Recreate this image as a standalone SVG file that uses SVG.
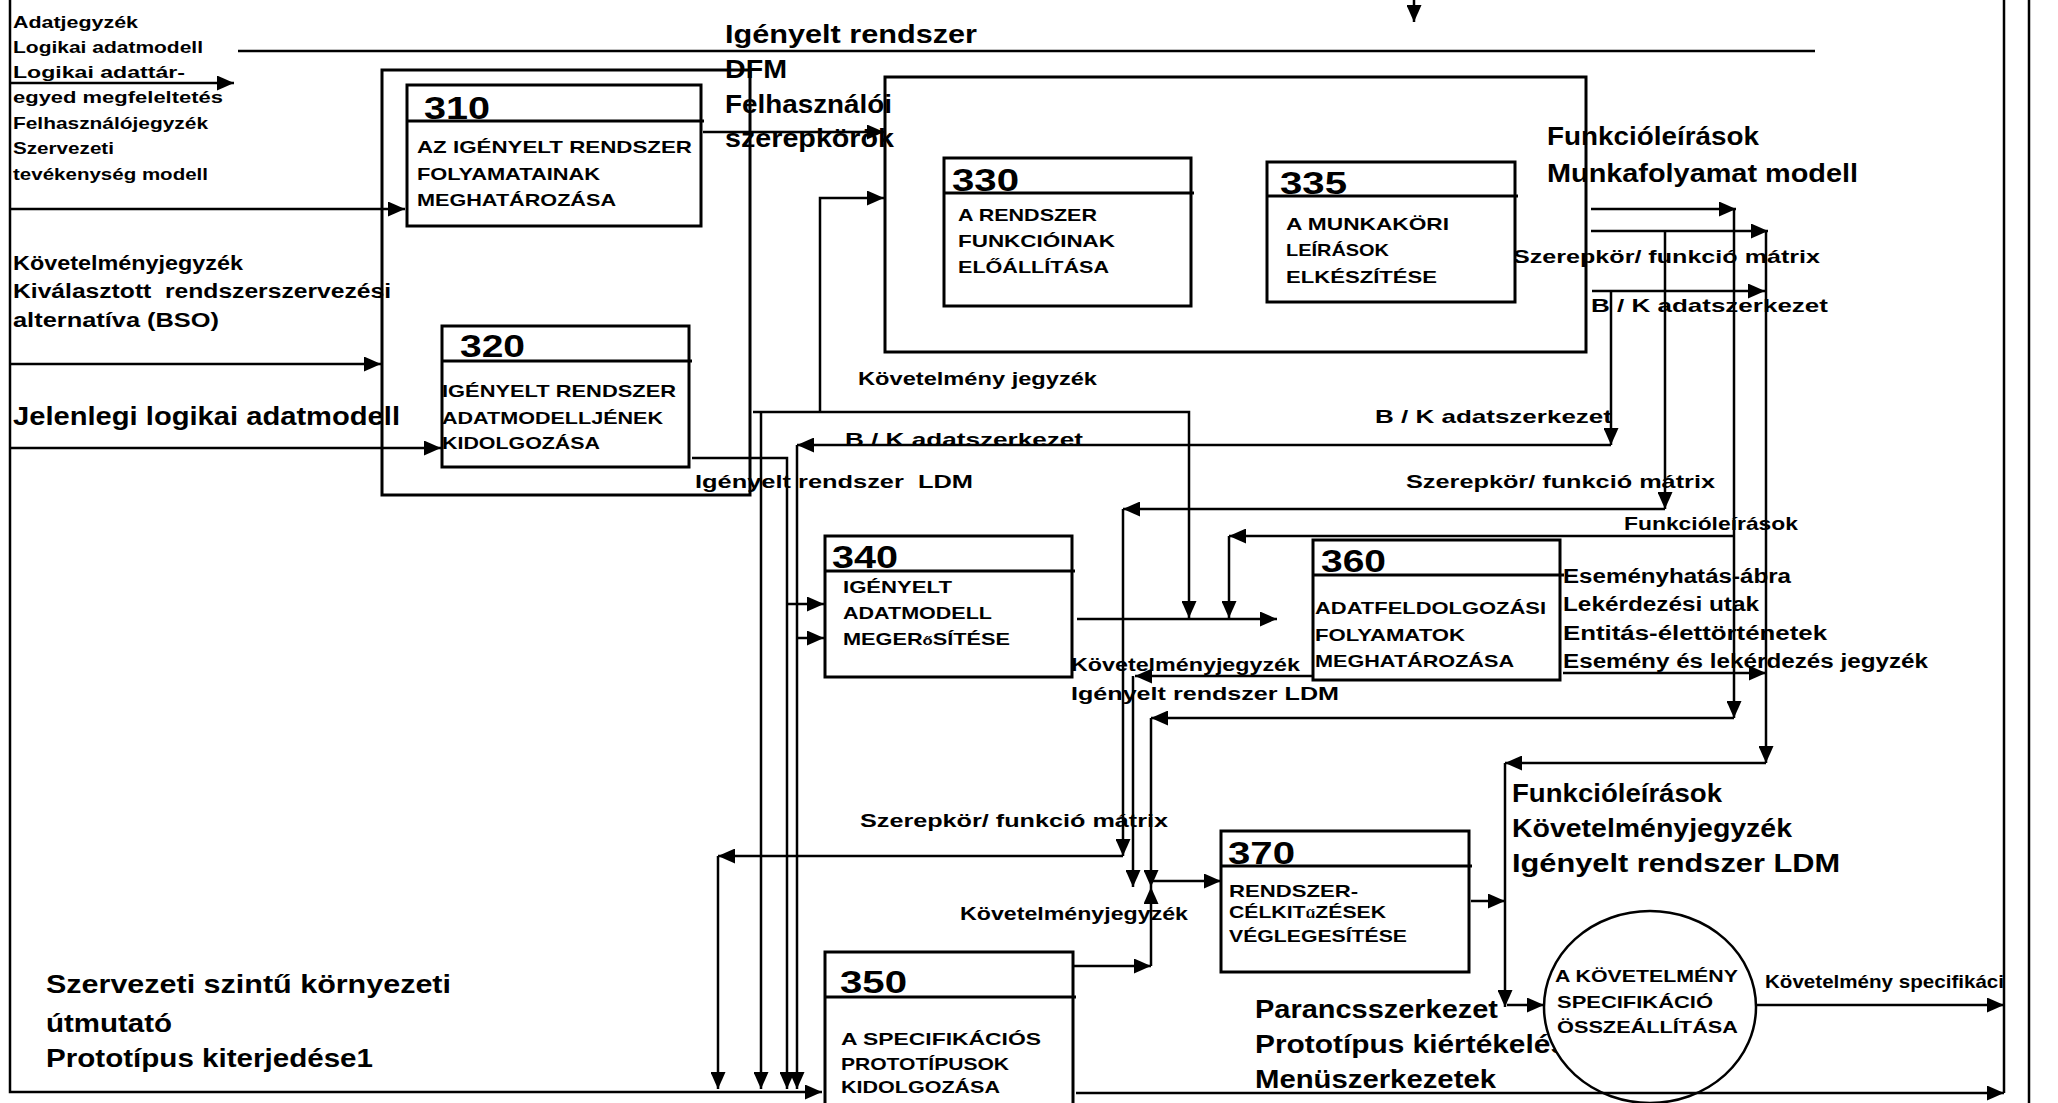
<svg xmlns="http://www.w3.org/2000/svg" width="2058" height="1103" viewBox="0 0 2058 1103">
  <defs>
    <marker id="ah" viewBox="0 0 17 15" refX="17" refY="7.5" markerWidth="17" markerHeight="15" markerUnits="userSpaceOnUse" orient="auto">
      <path d="M0,0 L17,7.5 L0,15 z" fill="#000"/>
    </marker>
    <style>
      .ln { fill: none; stroke: #000; stroke-width: 2.5; }
      .a { marker-end: url(#ah); }
      .bx { fill: #fff; stroke: #000; stroke-width: 3; }
      .fr { fill: none; stroke: #000; stroke-width: 3; }
      .dv { stroke: #000; stroke-width: 3; }
      text { font-family: "Liberation Sans", Arial, sans-serif; font-weight: bold; fill: #000; }
      .num { font-size: 32px; }
      .bt { font-size: 17px; }
      .s17 { font-size: 17px; }
      .s19 { font-size: 19px; }
      .s20 { font-size: 20px; }
      .s25 { font-size: 25px; }
    </style>
  </defs>

  <rect width="2058" height="1103" fill="#fff"/>

  <!-- flow labels -->
  <g id="labels">
    <text class="s17" x="13" y="28" textLength="125" lengthAdjust="spacingAndGlyphs">Adatjegyzék</text>
    <text class="s17" x="13" y="53" textLength="190" lengthAdjust="spacingAndGlyphs">Logikai adatmodell</text>
    <text class="s17" x="13" y="78" textLength="172" lengthAdjust="spacingAndGlyphs">Logikai adattár-</text>
    <text class="s17" x="13" y="103" textLength="210" lengthAdjust="spacingAndGlyphs">egyed megfeleltetés</text>
    <text class="s17" x="13" y="129" textLength="195" lengthAdjust="spacingAndGlyphs">Felhasználójegyzék</text>
    <text class="s17" x="13" y="154" textLength="101" lengthAdjust="spacingAndGlyphs">Szervezeti</text>
    <text class="s17" x="13" y="180" textLength="195" lengthAdjust="spacingAndGlyphs">tevékenység modell</text>

    <text class="s20" x="13" y="270" textLength="230" lengthAdjust="spacingAndGlyphs">Követelményjegyzék</text>
    <text class="s20" x="13" y="298" textLength="378" lengthAdjust="spacingAndGlyphs" xml:space="preserve">Kiválasztott  rendszerszervezési</text>
    <text class="s20" x="13" y="327" textLength="206" lengthAdjust="spacingAndGlyphs">alternatíva (BSO)</text>
    <text class="s25" x="13" y="425" textLength="387" lengthAdjust="spacingAndGlyphs">Jelenlegi logikai adatmodell</text>

    <text class="s25" x="725" y="43" textLength="252" lengthAdjust="spacingAndGlyphs">Igényelt rendszer</text>
    <text class="s25" x="725" y="78" textLength="62" lengthAdjust="spacingAndGlyphs">DFM</text>
    <text class="s25" x="725" y="113" textLength="167" lengthAdjust="spacingAndGlyphs">Felhasználói</text>
    <text class="s25" x="725" y="147" textLength="169" lengthAdjust="spacingAndGlyphs">szerepkörök</text>

    <text class="s25" x="1547" y="145" textLength="212" lengthAdjust="spacingAndGlyphs">Funkcióleírások</text>
    <text class="s25" x="1547" y="182" textLength="311" lengthAdjust="spacingAndGlyphs">Munkafolyamat modell</text>
    <text class="s19" x="1513" y="263" textLength="307" lengthAdjust="spacingAndGlyphs">Szerepkör/ funkció mátrix</text>
    <text class="s19" x="1591" y="312" textLength="237" lengthAdjust="spacingAndGlyphs">B / K adatszerkezet</text>

    <text class="s19" x="858" y="385" textLength="239" lengthAdjust="spacingAndGlyphs">Követelmény jegyzék</text>
    <text class="s19" x="845" y="446" textLength="238" lengthAdjust="spacingAndGlyphs">B / K adatszerkezet</text>
    <text class="s19" x="695" y="488" textLength="278" lengthAdjust="spacingAndGlyphs" xml:space="preserve">Igényelt rendszer  LDM</text>
    <text class="s19" x="1375" y="423" textLength="237" lengthAdjust="spacingAndGlyphs">B / K adatszerkezet</text>
    <text class="s19" x="1406" y="488" textLength="309" lengthAdjust="spacingAndGlyphs">Szerepkör/ funkció mátrix</text>
    <text class="s19" x="1624" y="530" textLength="174" lengthAdjust="spacingAndGlyphs">Funkcióleírások</text>

    <text class="s20" x="1563" y="583" textLength="228" lengthAdjust="spacingAndGlyphs">Eseményhatás-ábra</text>
    <text class="s20" x="1563" y="611" textLength="196" lengthAdjust="spacingAndGlyphs">Lekérdezési utak</text>
    <text class="s20" x="1563" y="640" textLength="264" lengthAdjust="spacingAndGlyphs">Entitás-élettörténetek</text>
    <text class="s20" x="1563" y="668" textLength="365" lengthAdjust="spacingAndGlyphs">Esemény és lekérdezés jegyzék</text>

    <text class="s19" x="1071" y="671" textLength="229" lengthAdjust="spacingAndGlyphs">Követelményjegyzék</text>
    <text class="s19" x="1071" y="700" textLength="268" lengthAdjust="spacingAndGlyphs">Igényelt rendszer LDM</text>
    <text class="s19" x="860" y="827" textLength="308" lengthAdjust="spacingAndGlyphs">Szerepkör/ funkció mátrix</text>
    <text class="s19" x="960" y="920" textLength="228" lengthAdjust="spacingAndGlyphs">Követelményjegyzék</text>

    <text class="s25" x="1512" y="802" textLength="210" lengthAdjust="spacingAndGlyphs">Funkcióleírások</text>
    <text class="s25" x="1512" y="837" textLength="280" lengthAdjust="spacingAndGlyphs">Követelményjegyzék</text>
    <text class="s25" x="1512" y="872" textLength="328" lengthAdjust="spacingAndGlyphs">Igényelt rendszer LDM</text>

    <text class="s25" x="1255" y="1018" textLength="243" lengthAdjust="spacingAndGlyphs">Parancsszerkezet</text>
    <text class="s25" x="1255" y="1053" textLength="312" lengthAdjust="spacingAndGlyphs">Prototípus kiértékelés</text>
    <text class="s25" x="1255" y="1088" textLength="241" lengthAdjust="spacingAndGlyphs">Menüszerkezetek</text>
    <text class="s19" x="1765" y="988" textLength="239" lengthAdjust="spacingAndGlyphs">Követelmény specifikáci</text>

    <text class="s25" x="46" y="993" textLength="405" lengthAdjust="spacingAndGlyphs">Szervezeti szintű környezeti</text>
    <text class="s25" x="46" y="1032" textLength="126" lengthAdjust="spacingAndGlyphs">útmutató</text>
    <text class="s25" x="46" y="1067" textLength="327" lengthAdjust="spacingAndGlyphs">Prototípus kiterjedése1</text>
  </g>

  <!-- enclosing frames of the decomposed steps -->
  <g id="frames">
    <rect class="fr" x="382" y="70" width="368" height="425"/>
    <rect class="fr" x="885" y="77" width="701" height="275"/>
  </g>

  <g id="n310">
    <rect class="bx" x="407" y="85" width="294" height="141"/>
    <line class="dv" x1="407" y1="121" x2="704" y2="121"/>
    <text class="num" x="424" y="119" textLength="66" lengthAdjust="spacingAndGlyphs">310</text>
    <text class="bt" x="417" y="153" textLength="275" lengthAdjust="spacingAndGlyphs">AZ IGÉNYELT RENDSZER</text>
    <text class="bt" x="417" y="180" textLength="183" lengthAdjust="spacingAndGlyphs">FOLYAMATAINAK</text>
    <text class="bt" x="417" y="206" textLength="199" lengthAdjust="spacingAndGlyphs">MEGHATÁROZÁSA</text>
  </g>

  <g id="n320">
    <rect class="bx" x="442" y="326" width="247" height="141"/>
    <line class="dv" x1="442" y1="361" x2="692" y2="361"/>
    <text class="num" x="460" y="357" textLength="65" lengthAdjust="spacingAndGlyphs">320</text>
    <text class="bt" x="442" y="397" textLength="234" lengthAdjust="spacingAndGlyphs">IGÉNYELT RENDSZER</text>
    <text class="bt" x="442" y="424" textLength="221" lengthAdjust="spacingAndGlyphs">ADATMODELLJÉNEK</text>
    <text class="bt" x="442" y="449" textLength="158" lengthAdjust="spacingAndGlyphs">KIDOLGOZÁSA</text>
  </g>

  <g id="n330">
    <rect class="bx" x="944" y="158" width="247" height="148"/>
    <line class="dv" x1="944" y1="193" x2="1194" y2="193"/>
    <text class="num" x="952" y="191" textLength="67" lengthAdjust="spacingAndGlyphs">330</text>
    <text class="bt" x="958" y="221" textLength="139" lengthAdjust="spacingAndGlyphs">A RENDSZER</text>
    <text class="bt" x="958" y="247" textLength="157" lengthAdjust="spacingAndGlyphs">FUNKCIÓINAK</text>
    <text class="bt" x="958" y="273" textLength="151" lengthAdjust="spacingAndGlyphs">ELŐÁLLÍTÁSA</text>
  </g>

  <g id="n335">
    <rect class="bx" x="1267" y="162" width="248" height="140"/>
    <line class="dv" x1="1267" y1="196" x2="1518" y2="196"/>
    <text class="num" x="1280" y="194" textLength="67" lengthAdjust="spacingAndGlyphs">335</text>
    <text class="bt" x="1286" y="230" textLength="163" lengthAdjust="spacingAndGlyphs">A MUNKAKÖRI</text>
    <text class="bt" x="1286" y="256" textLength="103" lengthAdjust="spacingAndGlyphs">LEÍRÁSOK</text>
    <text class="bt" x="1286" y="283" textLength="151" lengthAdjust="spacingAndGlyphs">ELKÉSZÍTÉSE</text>
  </g>

  <g id="n340">
    <rect class="bx" x="825" y="536" width="247" height="141"/>
    <line class="dv" x1="825" y1="571" x2="1075" y2="571"/>
    <text class="num" x="832" y="568" textLength="66" lengthAdjust="spacingAndGlyphs">340</text>
    <text class="bt" x="843" y="593" textLength="109" lengthAdjust="spacingAndGlyphs">IGÉNYELT</text>
    <text class="bt" x="843" y="619" textLength="149" lengthAdjust="spacingAndGlyphs">ADATMODELL</text>
    <text class="bt" x="843" y="645" textLength="167" lengthAdjust="spacingAndGlyphs">MEGER<tspan font-size="13">ő</tspan>SÍTÉSE</text>
  </g>

  <g id="n360">
    <rect class="bx" x="1313" y="540" width="247" height="140"/>
    <line class="dv" x1="1313" y1="575" x2="1564" y2="575"/>
    <text class="num" x="1321" y="572" textLength="65" lengthAdjust="spacingAndGlyphs">360</text>
    <text class="bt" x="1315" y="614" textLength="231" lengthAdjust="spacingAndGlyphs">ADATFELDOLGOZÁSI</text>
    <text class="bt" x="1315" y="641" textLength="150" lengthAdjust="spacingAndGlyphs">FOLYAMATOK</text>
    <text class="bt" x="1315" y="667" textLength="199" lengthAdjust="spacingAndGlyphs">MEGHATÁROZÁSA</text>
  </g>

  <g id="n370">
    <rect class="bx" x="1221" y="831" width="248" height="141"/>
    <line class="dv" x1="1221" y1="866" x2="1472" y2="866"/>
    <text class="num" x="1228" y="864" textLength="67" lengthAdjust="spacingAndGlyphs">370</text>
    <text class="bt" x="1229" y="897" textLength="129" lengthAdjust="spacingAndGlyphs">RENDSZER-</text>
    <text class="bt" x="1229" y="918" textLength="157" lengthAdjust="spacingAndGlyphs">CÉLKIT<tspan font-size="13">ű</tspan>ZÉSEK</text>
    <text class="bt" x="1229" y="942" textLength="178" lengthAdjust="spacingAndGlyphs">VÉGLEGESÍTÉSE</text>
  </g>

  <g id="n350">
    <rect class="bx" x="825" y="952" width="248" height="165"/>
    <line class="dv" x1="825" y1="997" x2="1076" y2="997"/>
    <text class="num" x="840" y="993" textLength="67" lengthAdjust="spacingAndGlyphs">350</text>
    <text class="bt" x="841" y="1045" textLength="200" lengthAdjust="spacingAndGlyphs">A SPECIFIKÁCIÓS</text>
    <text class="bt" x="841" y="1070" textLength="168" lengthAdjust="spacingAndGlyphs">PROTOTÍPUSOK</text>
    <text class="bt" x="841" y="1093" textLength="159" lengthAdjust="spacingAndGlyphs">KIDOLGOZÁSA</text>
  </g>

  <g id="spec">
    <ellipse cx="1650" cy="1007" rx="106" ry="96" fill="#fff" stroke="#000" stroke-width="2.5"/>
    <text class="bt" x="1555" y="982" textLength="183" lengthAdjust="spacingAndGlyphs">A KÖVETELMÉNY</text>
    <text class="bt" x="1557" y="1008" textLength="156" lengthAdjust="spacingAndGlyphs">SPECIFIKÁCIÓ</text>
    <text class="bt" x="1557" y="1033" textLength="181" lengthAdjust="spacingAndGlyphs">ÖSSZEÁLLÍTÁSA</text>
  </g>

  <g id="connectors">
    <!-- outer border and inputs from the left -->
    <path class="ln a" d="M10,0 V1092 H822"/>
    <path class="ln a" d="M10,83 H234"/>
    <path class="ln" d="M238,51 H1815"/>
    <path class="ln a" d="M1414,0 V22"/>
    <path class="ln a" d="M10,209 H405"/>
    <path class="ln a" d="M10,364 H381"/>
    <path class="ln a" d="M10,448 H441"/>
    <path class="ln a" d="M703,132 H884"/>

    <!-- Követelmény jegyzék -->
    <path class="ln a" d="M753,412 H1189 V618"/>
    <path class="ln a" d="M820,412 V198 H884"/>
    <path class="ln a" d="M761,412 V1089"/>

    <!-- Igényelt rendszer LDM from 320 -->
    <path class="ln a" d="M692,458 H787 V1089"/>
    <path class="ln a" d="M787,604 H824"/>

    <!-- B / K adatszerkezet -->
    <path class="ln a" d="M1592,291 H1765"/>
    <path class="ln a" d="M1611,291 V445"/>
    <path class="ln a" d="M1611,445 H797"/>
    <path class="ln a" d="M797,445 V1089"/>
    <path class="ln a" d="M797,638 H824"/>

    <!-- Szerepkör/ funkció mátrix -->
    <path class="ln a" d="M1591,231 H1768"/>
    <path class="ln a" d="M1665,231 V509"/>
    <path class="ln a" d="M1665,509 H1123"/>
    <path class="ln a" d="M1123,509 V856"/>
    <path class="ln a" d="M1123,856 H718"/>
    <path class="ln a" d="M718,856 V1089"/>

    <!-- Funkcióleírások -->
    <path class="ln a" d="M1591,209 H1736"/>
    <path class="ln a" d="M1734,209 V718"/>
    <path class="ln a" d="M1734,718 H1151"/>
    <path class="ln a" d="M1151,718 V887"/>
    <path class="ln a" d="M1734,536 H1229"/>
    <path class="ln a" d="M1229,536 V618"/>

    <!-- 340 output -->
    <path class="ln a" d="M1077,619 H1277"/>

    <!-- 360 outputs -->
    <path class="ln a" d="M1313,676 H1135"/>
    <path class="ln a" d="M1133,676 V887"/>
    <path class="ln a" d="M1563,673 H1766"/>

    <!-- collected inputs of the specification step -->
    <path class="ln a" d="M1766,231 V763"/>
    <path class="ln a" d="M1766,763 H1505"/>
    <path class="ln a" d="M1505,763 V1007"/>
    <path class="ln a" d="M1507,1005 H1544"/>
    <path class="ln a" d="M1471,901 H1505"/>

    <!-- 350 into the 370 junction -->
    <path class="ln a" d="M1074,966 H1151"/>
    <path class="ln a" d="M1151,966 V887"/>
    <path class="ln a" d="M1151,881 H1221"/>

    <!-- outputs to the right border -->
    <path class="ln a" d="M1076,1093 H2004"/>
    <path class="ln a" d="M1756,1005 H2004"/>
    <path class="ln" d="M2004,0 V1093"/>
    <path class="ln" d="M2029,0 V1103"/>
  </g>
</svg>
